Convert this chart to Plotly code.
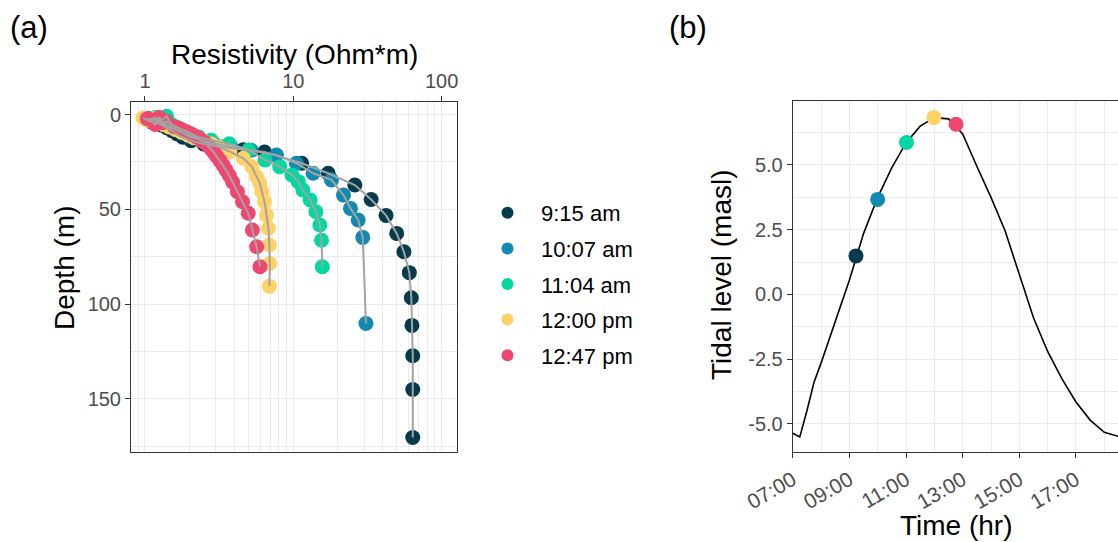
import math
import plotly.graph_objects as go

# ---------------- data: panel (a) resistivity profiles ----------------
series_names = ["9:15 am", "10:07 am", "11:04 am", "12:00 pm", "12:47 pm"]
series_colors = ["#073B4C", "#118AB2", "#06D6A0", "#FFD166", "#EF476F"]

res_0915 = [1.02, 1.10, 1.16, 1.22, 1.30, 1.40, 1.52, 1.65, 1.80, 2.05, 2.50, 3.30, 4.60, 6.40,
            11.4, 17.2, 26.0, 33.5, 42.2, 49.8, 55.7, 60.6, 62.5, 63.1, 63.9, 63.9, 63.9]
dep_0915 = [2.4, 3.8, 2.6, 4.4, 5.6, 7.0, 8.6, 10.3, 12.0, 13.8, 15.6, 17.2, 18.6, 19.8,
            25.7, 31.0, 37.2, 44.8, 53.2, 62.7, 72.4, 83.4, 96.6, 111.2, 127.2, 145.0, 170.3]

res_1007 = [1.05, 1.12, 1.20, 1.28, 1.38, 1.50, 1.64, 1.80, 2.00, 2.35, 2.90, 3.80, 5.20,
            7.7, 10.5, 13.6, 18.1, 21.8, 24.3, 27.4, 29.4, 30.9]
dep_1007 = [2.0, 3.4, 2.4, 4.0, 5.2, 6.6, 8.2, 9.8, 11.6, 13.4, 15.2, 17.0, 18.9,
            21.4, 25.7, 31.0, 34.5, 42.5, 49.5, 55.6, 64.8, 110.2]

res_1104 = [1.08, 1.18, 1.26, 1.40, 1.52, 1.66, 1.82, 2.02, 2.30, 2.80, 3.70, 5.00, 6.45,
            8.1, 9.8, 10.8, 11.6, 13.0, 14.2, 15.1, 15.5, 15.7]
dep_1104 = [2.6, 1.6, 3.6, 0.9, 5.4, 6.8, 8.4, 10.0, 11.8, 13.6, 15.4, 18.7, 24.0,
            27.5, 31.9, 35.4, 39.8, 45.1, 51.3, 58.3, 66.3, 80.3]

res_1200 = [0.97, 1.06, 1.14, 1.24, 1.34, 1.46, 1.60, 1.76, 1.95, 2.15, 2.45, 2.80, 3.15, 3.74,
            4.60, 5.25, 5.66, 5.95, 6.15, 6.40, 6.60, 6.80, 6.90, 6.95, 6.90]
dep_1200 = [1.8, 3.2, 2.2, 4.2, 5.4, 6.6, 7.9, 9.3, 10.8, 12.3, 13.9, 15.5, 17.2, 19.6,
            23.1, 27.5, 32.8, 36.3, 40.7, 46.0, 53.0, 60.0, 68.8, 78.5, 90.5]

res_1247 = [1.04, 1.10, 1.17, 1.25, 1.32, 1.39, 1.58, 1.75, 1.92, 2.08, 2.24, 2.40, 2.55, 2.68,
            2.80, 2.92, 3.05, 3.20, 3.36, 3.52, 3.70, 3.90, 4.20, 4.55, 4.97, 5.30, 5.66, 5.96]
dep_1247 = [2.2, 2.9, 5.3, 1.6, 4.3, 3.6, 6.4, 7.8, 9.2, 10.6, 12.0, 13.5, 15.0, 16.6,
            18.3, 20.1, 22.1, 24.3, 26.7, 29.3, 32.2, 35.6, 40.7, 46.0, 52.1, 60.9, 69.7, 80.3]

res_series = [res_0915, res_1007, res_1104, res_1200, res_1247]
dep_series = [dep_0915, dep_1007, dep_1104, dep_1200, dep_1247]

res_ticks = [1, 10, 100]
res_minor = [0.9, 2, 3, 4, 5, 6, 7, 8, 9, 20, 30, 40, 50, 60, 70, 80, 90]
depth_ticks = [0, 50, 100, 150]
depth_minor = [25, 75, 125, 175]

# ---------------- data: panel (b) tidal curve ----------------
tide_time = ["07:00", "07:15", "07:30", "07:45", "08:00", "08:30", "09:00", "09:30", "10:00",
             "10:30", "11:00", "11:30", "12:00", "12:30", "13:00", "13:30", "14:00", "14:30",
             "15:00", "15:30", "16:00", "16:30", "17:00", "17:30", "18:00", "18:30", "19:00"]
tide_level = [-5.36, -5.50, -4.50, -3.40, -2.65, -1.05, 0.55, 2.35, 3.75,
              4.90, 5.85, 6.50, 6.83, 6.78, 6.20, 4.95, 3.75, 2.45,
              0.75, -0.90, -2.20, -3.25, -4.15, -4.85, -5.32, -5.48, -5.50]
obs_time = ["09:14", "10:00", "11:01", "11:59", "12:46"]
obs_level = [1.49, 3.67, 5.87, 6.83, 6.57]

tide_ticks = [-5.0, -2.5, 0.0, 2.5, 5.0]
tide_minor = [-3.75, -1.25, 1.25, 3.75, 6.25]
time_ticks = ["07:00", "09:00", "11:00", "13:00", "15:00", "17:00", "19:00"]
time_minor = ["08:00", "10:00", "12:00", "14:00", "16:00", "18:00"]

DAY = "2021-01-01 "
def ts(t):
    return DAY + t + ":00"

W, H = 1118, 542
FONT = "Liberation Sans, Arial, sans-serif"
GRID = "#EBEBEB"
BORDER = "#333333"
TICKC = "#4D4D4D"
TICKSIZE = 20
TITLESIZE = 28

fig = go.Figure()

for name, col, rs, ds in zip(series_names, series_colors, res_series, dep_series):
    fig.add_trace(go.Scatter(
        x=rs, y=ds, mode="markers", name=name, legendgroup=name,
        marker=dict(color=col, size=15, line=dict(width=0)),
        xaxis="x", yaxis="y", hoverinfo="skip"))
for name, rs, ds in zip(series_names, res_series, dep_series):
    fig.add_trace(go.Scatter(
        x=rs, y=ds, mode="lines", showlegend=False,
        line=dict(color="#A3A3A3", width=2),
        xaxis="x", yaxis="y", hoverinfo="skip"))

fig.add_trace(go.Scatter(
    x=[ts(t) for t in tide_time], y=tide_level, mode="lines", showlegend=False,
    line=dict(color="black", width=1.6), xaxis="x2", yaxis="y2", hoverinfo="skip"))
fig.add_trace(go.Scatter(
    x=[ts(t) for t in obs_time], y=obs_level, mode="markers", showlegend=False,
    marker=dict(color=series_colors, size=15, line=dict(width=0)),
    xaxis="x2", yaxis="y2", hoverinfo="skip"))

ax_common = dict(showline=True, linecolor=BORDER, linewidth=1, ticks="outside",
                 ticklen=5, tickcolor=BORDER, tickwidth=1, gridcolor=GRID, gridwidth=1.3,
                 zeroline=False, automargin=False)

def ann(text, x, y, angle=0, size=TITLESIZE):
    return dict(text=text, x=x / W, y=1 - y / H, xref="paper", yref="paper",
                xanchor="center", yanchor="middle", showarrow=False, textangle=angle,
                font=dict(size=size, color="black"))

fig.update_layout(
    width=W, height=H,
    margin=dict(l=0, r=0, t=0, b=0),
    paper_bgcolor="white", plot_bgcolor="white",
    font=dict(family=FONT, color="black"),
    xaxis=dict(
        type="log", side="top", domain=[131 / W, 457 / W], anchor="y",
        range=[math.log10(0.805), math.log10(127)],
        tickvals=res_ticks, ticktext=[str(v) for v in res_ticks],
        tickfont=dict(size=TICKSIZE, color=TICKC), mirror=True,
        minor=dict(tickvals=res_minor, showgrid=True, gridcolor=GRID, gridwidth=1.3, ticklen=0),
        **ax_common),
    yaxis=dict(
        domain=[1 - 451.7 / H, 1 - 101.7 / H], anchor="x",
        range=[177.8, -6.75],
        tickvals=depth_ticks, tickfont=dict(size=TICKSIZE, color=TICKC), mirror=True,
        minor=dict(tickvals=depth_minor, showgrid=True, gridcolor=GRID, gridwidth=1.3, ticklen=0),
        **ax_common),
    xaxis2=dict(
        type="date", domain=[792.7 / W, 1.0], anchor="y2",
        range=[ts("07:00"), ts("18:29")],
        tickvals=[ts(t) for t in time_ticks], ticktext=time_ticks,
        tickangle=-30, tickfont=dict(size=21, color=TICKC), mirror=True,
        ticklabelstandoff=2,
        minor=dict(tickvals=[ts(t) for t in time_minor], showgrid=True, gridcolor=GRID,
                   gridwidth=1.3, ticklen=0),
        **ax_common),
    yaxis2=dict(
        domain=[1 - 451.7 / H, 1 - 101 / H], anchor="x2",
        range=[-6.07, 7.47],
        tickvals=tide_ticks, ticktext=[f"{v:.1f}" for v in tide_ticks],
        tickfont=dict(size=TICKSIZE, color=TICKC), mirror=False,
        minor=dict(tickvals=tide_minor, showgrid=True, gridcolor=GRID, gridwidth=1.3, ticklen=0),
        **ax_common),
    legend=dict(
        x=474 / W, xanchor="left", y=1 - 284 / H, yanchor="middle",
        font=dict(size=22, color="black"), tracegroupgap=4, itemwidth=57,
        bgcolor="rgba(0,0,0,0)", itemsizing="constant"),
    annotations=[
        dict(text="(a)", x=8 / W, y=1 - 28 / H, xref="paper", yref="paper",
             xanchor="left", yanchor="middle", showarrow=False, font=dict(size=31, color="black")),
        dict(text="(b)", x=667 / W, y=1 - 28 / H, xref="paper", yref="paper",
             xanchor="left", yanchor="middle", showarrow=False, font=dict(size=31, color="black")),
        ann("Resistivity (Ohm*m)", 294, 55),
        ann("Depth (m)", 64, 268, angle=-90),
        ann("Tidal level (masl)", 721, 275, angle=-90),
        ann("Time (hr)", 956, 525),
    ],
)

fig.write_html("out.html")
